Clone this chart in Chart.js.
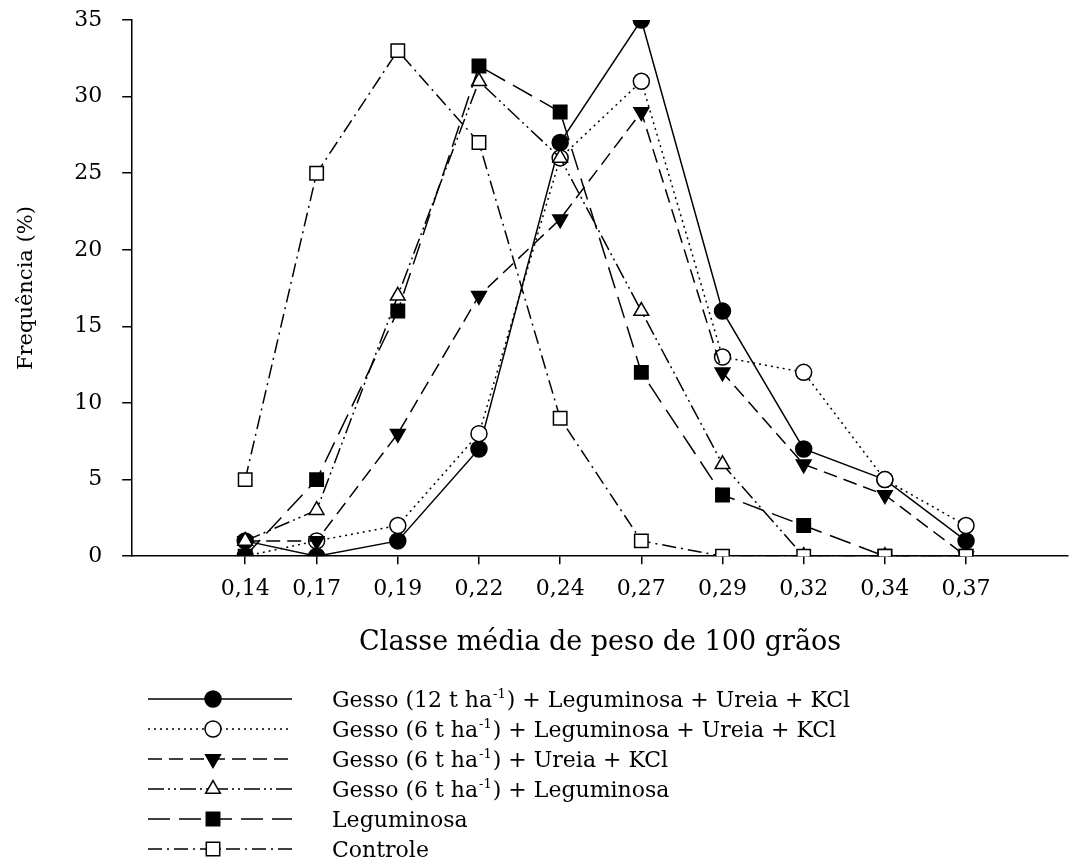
<!DOCTYPE html>
<html>
<head>
<meta charset="utf-8">
<script src="https://cdn.jsdelivr.net/npm/chart.js@4"></script>
<style>
  html, body { margin: 0; padding: 0; background: #fff; }
  #wrap { width: 1072px; height: 866px; }
</style>
</head>
<body>
<div id="wrap"><canvas id="grainChart"></canvas></div>
<script>
// class midpoints (x) and their printed labels
const classMid = [0.148, 0.17, 0.195, 0.22, 0.245, 0.27, 0.295, 0.32, 0.345, 0.37];
const classLabels = ['0,14', '0,17', '0,19', '0,22', '0,24', '0,27', '0,29', '0,32', '0,34', '0,37'];

// frequency (%) per treatment
const gesso12LegUreiaKcl = [1, 0, 1, 7, 27, 35, 16, 7, 5, 1];
const gesso6LegUreiaKcl = [0, 1, 2, 8, 26, 31, 13, 12, 5, 2];
const gesso6UreiaKcl = [1, 1, 8, 17, 22, 29, 12, 6, 4, 0];
const gesso6Leg = [1, 3, 17, 31, 26, 16, 6, 0, 0, 0];
const leguminosa = [0, 5, 16, 32, 29, 12, 4, 2, 0, 0];
const controle = [5, 25, 33, 27, 9, 1, 0, 0, 0, 0];

const seriesNames = [
    'Gesso (12 t ha⁻¹) + Leguminosa + Ureia + KCl',
    'Gesso (6 t ha⁻¹) + Leguminosa + Ureia + KCl',
    'Gesso (6 t ha⁻¹) + Ureia + KCl',
    'Gesso (6 t ha⁻¹) + Leguminosa',
    'Leguminosa',
    'Controle'
];

const FONT = 'DejaVu Serif';

function pts(values) {
    return classMid.map((x, i) => ({ x: x, y: values[i] }));
}

function makeSet(i, values, dash, style, filled, radius, rotation) {
    return {
        label: seriesNames[i],
        data: pts(values),
        borderColor: '#000',
        borderWidth: 1.5,
        borderDash: dash,
        pointStyle: style,
        pointRotation: rotation || 0,
        pointRadius: radius,
        pointBorderWidth: 1.5,
        pointBorderColor: '#000',
        pointBackgroundColor: filled ? '#000' : '#fff',
        tension: 0,
        order: 5 - i
    };
}

// custom legend under the axis title, reusing each dataset's style
const legendBelow = {
    id: 'legendBelow',
    afterDraw(chart) {
        const ctx = chart.ctx;
        const top = 699, gap = 30;
        chart.data.datasets.forEach((ds, i) => {
            const y = top + i * gap;
            ctx.save();
            ctx.strokeStyle = '#000';
            ctx.lineWidth = ds.borderWidth;
            ctx.setLineDash(ds.borderDash);
            ctx.beginPath();
            ctx.moveTo(148, y);
            ctx.lineTo(292, y);
            ctx.stroke();
            ctx.setLineDash([]);
            ctx.fillStyle = ds.pointBackgroundColor;
            ctx.lineWidth = ds.pointBorderWidth;
            Chart.helpers.drawPoint(ctx, {
                pointStyle: ds.pointStyle,
                rotation: ds.pointRotation,
                radius: ds.pointRadius,
                borderWidth: ds.pointBorderWidth
            }, 213, y);

            // text, with ⁻¹ drawn as a real superscript
            ctx.fillStyle = '#000';
            ctx.textBaseline = 'alphabetic';
            ctx.textAlign = 'left';
            const parts = ds.label.split('⁻¹');
            let x = 332;
            const base = y + 8;
            parts.forEach((p, k) => {
                ctx.font = '22px "' + FONT + '"';
                ctx.fillText(p, x, base);
                x += ctx.measureText(p).width;
                if (k < parts.length - 1) {
                    ctx.font = '13px "' + FONT + '"';
                    ctx.fillText('-1', x + 1, base - 9);
                    x += ctx.measureText('-1').width + 2;
                }
            });
            ctx.restore();
        });
    }
};

new Chart(document.getElementById('grainChart'), {
    type: 'line',
    data: {
        datasets: [
            makeSet(0, gesso12LegUreiaKcl, [], 'circle', true, 8),
            makeSet(1, gesso6LegUreiaKcl, [2, 4], 'circle', false, 8),
            makeSet(2, gesso6UreiaKcl, [14, 7], 'triangle', true, 8.5, 180),
            makeSet(3, gesso6Leg, [16, 4, 2, 4, 2, 4], 'triangle', false, 8.5),
            makeSet(4, leguminosa, [22, 9], 'rect', true, 9.5),
            makeSet(5, controle, [14, 5, 2, 5], 'rect', false, 9.5)
        ]
    },
    options: {
        responsive: true,
        maintainAspectRatio: false,
        animation: false,
        layout: { autoPadding: false, padding: { left: 14, top: 20, right: 4, bottom: 207 } },
        plugins: {
            legend: { display: false },
            tooltip: { enabled: false }
        },
        scales: {
            x: {
                type: 'linear',
                min: 0.1132,
                max: 0.4014,
                afterBuildTicks: (scale) => {
                    scale.ticks = classMid.map(v => ({ value: v }));
                },
                afterFit: (scale) => {
                    scale.paddingLeft = 0;
                    scale.paddingRight = 0;
                },
                ticks: {
                    autoSkip: false,
                    maxRotation: 0,
                    color: '#000',
                    padding: 12,
                    font: { family: FONT, size: 22 },
                    callback: (value) => classLabels[classMid.indexOf(value)]
                },
                grid: { drawOnChartArea: false, tickLength: 8, color: '#000', lineWidth: 1.5 },
                border: { color: '#000', width: 1.5 },
                title: {
                    display: true,
                    text: 'Classe média de peso de 100 grãos',
                    color: '#000',
                    font: { family: FONT, size: 27 },
                    padding: { top: 12, bottom: 0 }
                }
            },
            y: {
                min: 0,
                max: 35,
                afterFit: (scale) => {
                    scale.paddingTop = 13;
                    scale.paddingBottom = 13;
                },
                ticks: {
                    stepSize: 5,
                    color: '#000',
                    padding: 20,
                    font: { family: FONT, size: 22 }
                },
                grid: { drawOnChartArea: false, tickLength: 10, color: '#000', lineWidth: 1.5 },
                border: { color: '#000', width: 1.5 },
                title: {
                    display: true,
                    text: 'Frequência (%)',
                    color: '#000',
                    font: { family: FONT, size: 21 },
                    padding: { top: 0, bottom: 15 }
                }
            }
        }
    },
    plugins: [legendBelow]
});
</script>
</body>
</html>
